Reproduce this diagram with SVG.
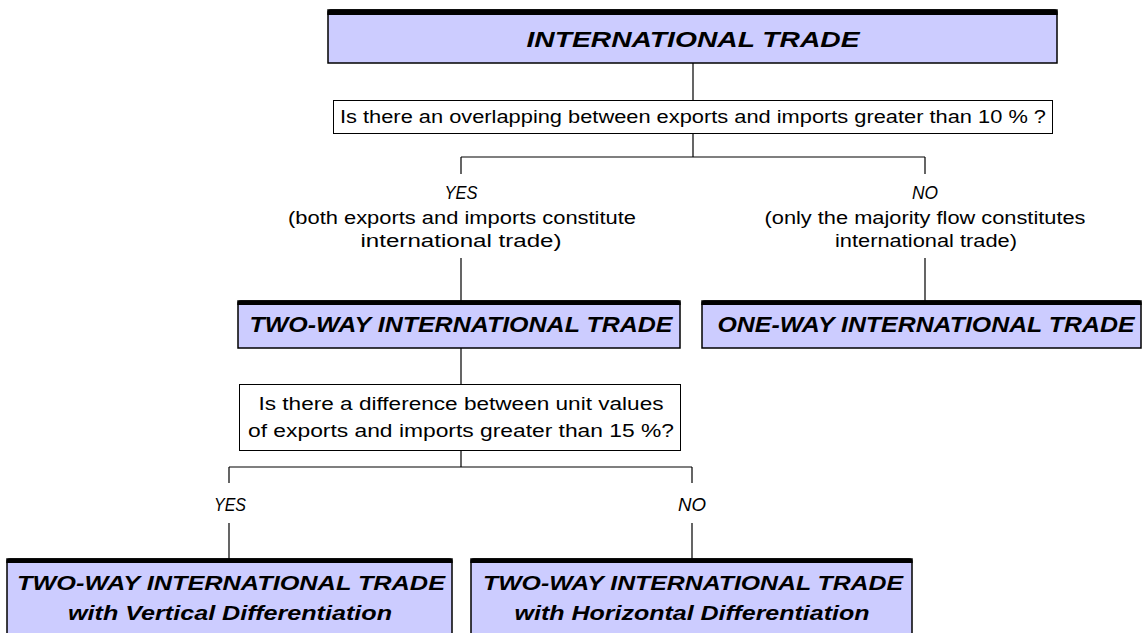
<svg xmlns="http://www.w3.org/2000/svg" width="1142" height="633" viewBox="0 0 1142 633">
<style>
.box{fill:#ccccff;stroke:#000;stroke-width:1.5}
.top{fill:#000}
.q{fill:#fff;stroke:#000;stroke-width:1}
.ln{fill:none;stroke:#000;stroke-width:1.2}
.t{font-family:"Liberation Sans",Arial,sans-serif;font-size:17.5px;fill:#000;text-anchor:middle}
.i{font-style:italic}
.b{font-family:"Liberation Sans",Arial,sans-serif;font-weight:bold;font-style:italic;fill:#000;text-anchor:middle}
</style>
<rect width="1142" height="633" fill="#fff"/>
<g id="connectors">
<path class="ln" d="M693 63V100M693 133V157M461 157H925M461 157V174M925 157V174M461 258V301M925 258V301M461 348V384M461 451V467M229 467H692M229 467V483M692 467V483M229 523V559M692 523V559"/>
</g>
<g id="n-international">
<rect class="box" x="328" y="10" width="729" height="53"/>
<path class="top" d="M327.3 15V13Q327.3 9.3 331 9.3H1054Q1057.7 9.3 1057.7 13V15Z"/>
<text class="b" x="693" y="47" font-size="21.5" textLength="333" lengthAdjust="spacingAndGlyphs">INTERNATIONAL TRADE</text>
</g>
<g id="q-overlap">
<rect class="q" x="333.5" y="100.5" width="719" height="33"/>
<text class="t" x="693" y="123" textLength="706" lengthAdjust="spacingAndGlyphs">Is there an overlapping between exports and imports greater than 10 % ?</text>
</g>
<g id="l-yes1">
<text class="t i" x="461" y="199" textLength="33" lengthAdjust="spacingAndGlyphs">YES</text>
<text class="t" x="462" y="224" textLength="348" lengthAdjust="spacingAndGlyphs">(both exports and imports constitute</text>
<text class="t" x="461" y="247" textLength="201" lengthAdjust="spacingAndGlyphs">international trade)</text>
</g>
<g id="l-no1">
<text class="t i" x="925" y="199" textLength="26" lengthAdjust="spacingAndGlyphs">NO</text>
<text class="t" x="925" y="224" textLength="321" lengthAdjust="spacingAndGlyphs">(only the majority flow constitutes</text>
<text class="t" x="926" y="247" textLength="182" lengthAdjust="spacingAndGlyphs">international trade)</text>
</g>
<g id="n-twoway">
<rect class="box" x="238" y="301" width="442" height="47"/>
<path class="top" d="M237.3 305V304Q237.3 300.3 241 300.3H677Q680.7 300.3 680.7 304V305Z"/>
<text class="b" x="461" y="332" font-size="22" textLength="423" lengthAdjust="spacingAndGlyphs">TWO-WAY INTERNATIONAL TRADE</text>
</g>
<g id="n-oneway">
<rect class="box" x="702" y="301" width="439" height="47"/>
<path class="top" d="M701.3 305V304Q701.3 300.3 705 300.3H1138Q1141.7 300.3 1141.7 304V305Z"/>
<text class="b" x="926" y="332" font-size="22" textLength="417" lengthAdjust="spacingAndGlyphs">ONE-WAY INTERNATIONAL TRADE</text>
</g>
<g id="q-unit">
<rect class="q" x="239.5" y="384.5" width="441" height="66"/>
<text class="t" x="461" y="410" textLength="405" lengthAdjust="spacingAndGlyphs">Is there a difference between unit values</text>
<text class="t" x="461" y="437" textLength="426" lengthAdjust="spacingAndGlyphs">of exports and imports greater than 15 %?</text>
</g>
<g id="l-yes2">
<text class="t i" x="230" y="511" textLength="32" lengthAdjust="spacingAndGlyphs">YES</text>
</g>
<g id="l-no2">
<text class="t i" x="692" y="511" textLength="28" lengthAdjust="spacingAndGlyphs">NO</text>
</g>
<g id="n-vertical">
<rect class="box" x="7" y="559" width="445" height="80"/>
<path class="top" d="M6.3 563V562Q6.3 558.3 10 558.3H449Q452.7 558.3 452.7 562V563Z"/>
<text class="b" x="231" y="590" font-size="20" textLength="428" lengthAdjust="spacingAndGlyphs">TWO-WAY  INTERNATIONAL TRADE</text>
<text class="b" x="230" y="620" font-size="20" textLength="324" lengthAdjust="spacingAndGlyphs">with Vertical Differentiation</text>
</g>
<g id="n-horizontal">
<rect class="box" x="471" y="559" width="441" height="80"/>
<path class="top" d="M470.3 563V562Q470.3 558.3 474 558.3H909Q912.7 558.3 912.7 562V563Z"/>
<text class="b" x="693" y="590" font-size="20" textLength="420" lengthAdjust="spacingAndGlyphs">TWO-WAY INTERNATIONAL TRADE</text>
<text class="b" x="692" y="620" font-size="20" textLength="355" lengthAdjust="spacingAndGlyphs">with Horizontal Differentiation</text>
</g>
</svg>
